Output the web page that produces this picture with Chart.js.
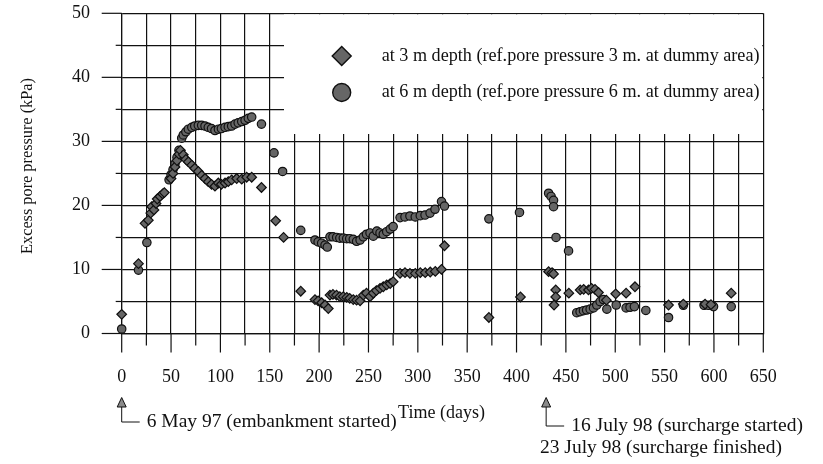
<!DOCTYPE html>
<html>
<head>
<meta charset="utf-8">
<script src="https://cdn.jsdelivr.net/npm/chart.js@4/dist/chart.umd.min.js"></script>
<style>
  html, body { margin: 0; padding: 0; background: #fff; }
  #wrap { width: 823px; height: 464px; position: relative; }
</style>
</head>
<body>
<div id="wrap"><canvas id="c" width="823" height="464"></canvas></div>
<script>
// ---- data ----
const xTickLabels = [0, 50, 100, 150, 200, 250, 300, 350, 400, 450, 500, 550, 600, 650];
const yTickLabels = [0, 10, 20, 30, 40, 50];

const seriesNames = [
  "at 3 m depth (ref.pore pressure 3 m. at dummy area)",
  "at 6 m depth (ref.pore pressure 6 m. at dummy area)"
];

// 3 m depth (diamonds)
const days3 = [0, 17, 23.6, 27, 29.4, 30.4, 32.7, 34.8, 36, 38.8, 41.5, 43.2,
  50, 52, 54, 56, 58, 59.5, 62.4, 65, 67.5, 71, 74, 77.6, 81, 84.4, 87.7, 91, 94.5,
  97.9, 101, 104.7, 108, 111.4, 116.5, 121.6, 126.6, 131.7,
  141.6, 156, 164, 181.4,
  195.8, 199, 202.6, 206, 209.3,
  211, 214, 217.6, 221, 224.5, 228, 231, 234.6, 238, 241.5, 244.8, 248, 251.6, 254.9, 258, 261.7, 265, 268.5, 272, 275,
  282, 287, 292, 297.4, 302.5, 307.5, 312.6, 317.7, 324, 327,
  372, 404,
  432.5, 436, 437.5, 439.7, 439.7, 438, 453,
  464.5, 468, 472.9, 476, 479.5, 483,
  491, 500.5, 511, 520, 554, 569, 591, 597, 617.5];
const vals3 = [3.0, 10.9, 17.2, 17.7, 18.8, 19.8, 19.3, 20.3, 21.0, 21.4, 21.8, 22.0,
  24.2, 25.0, 26.0, 27.0, 28.0, 28.6, 27.9, 27.2, 26.8, 26.3, 25.8, 25.3, 24.7, 24.2, 23.7, 23.3, 23.0,
  23.5, 23.3, 23.5, 23.7, 24.0, 24.2, 24.1, 24.4, 24.4,
  22.8, 17.6, 15.0, 6.6,
  5.3, 5.1, 4.8, 4.45, 3.9,
  6.0, 6.1, 6.0, 5.75, 5.75, 5.65, 5.5, 5.3, 5.2, 5.1, 6.0, 6.3, 5.75, 6.3, 6.7, 7.05, 7.3, 7.6, 7.8, 8.1,
  9.4, 9.5, 9.4, 9.4, 9.5, 9.5, 9.6, 9.7, 10.0, 13.7,
  2.5, 5.7,
  9.65, 9.5, 9.3, 6.8, 5.7, 4.45, 6.3,
  6.8, 6.9, 6.8, 7.05, 6.9, 6.4,
  5.2, 6.2, 6.3, 7.3, 4.45, 4.6, 4.6, 4.5, 6.3];

// 6 m depth (circles)
const days6 = [0, 17, 25.5,
  48, 50, 52, 54, 56, 58, 60.8, 62.4, 65, 67.5, 71, 74, 77.6, 81, 84.4, 87.7, 91, 94.5,
  98, 101, 104.7, 108, 111.4, 114.8, 118, 121.6, 125, 128.3, 131.7,
  141.6, 154.3, 163, 181.4,
  195.8, 199, 202.6, 206, 208.3,
  211, 214, 217.8, 221, 224.5, 228, 231, 234.6, 238, 241.5, 244.8, 248, 251.6, 254.9, 258.5, 261.7, 265, 268.5, 272, 275,
  282, 287, 292, 297.4, 302.5, 307.3, 312.4, 317.4, 324, 327,
  372, 403,
  432.5, 435, 437.5, 437.5, 440, 452.7,
  461, 464.4, 467.8, 471, 474.6, 478, 481.3, 484.7, 488, 491.5,
  501, 511, 515, 519.4, 531, 554, 569, 590, 594.5, 599.6, 617.5];
const vals6 = [0.7, 9.9, 14.2,
  24.0, 24.8, 25.6, 26.5, 27.5, 28.6, 30.5, 31.0, 31.5, 31.9, 32.2, 32.4, 32.5, 32.5, 32.4, 32.2, 32.0, 31.7,
  31.9, 32.0, 32.2, 32.3, 32.4, 32.7, 32.9, 33.1, 33.3, 33.6, 33.8,
  32.7, 28.2, 25.3, 16.1,
  14.6, 14.3, 14.1, 13.8, 13.5,
  15.1, 15.1, 15.0, 14.9, 14.9, 14.8, 14.8, 14.7, 14.4, 14.6, 15.1, 15.5, 15.7, 15.2, 16.0, 15.7, 15.5, 15.9, 16.3, 16.7,
  18.1, 18.2, 18.35, 18.2, 18.4, 18.5, 18.8, 19.4, 20.6, 19.9,
  17.9, 18.9,
  21.9, 21.4, 20.8, 19.8, 15.0, 12.9,
  3.25, 3.4, 3.56, 3.67, 3.8, 4.0, 4.45, 4.97, 5.3, 3.8,
  4.45, 4.0, 4.1, 4.2, 3.6, 2.5, 4.4, 4.4, 4.4, 4.2, 4.2];

const notes = {
  start: "6 May 97 (embankment started)",
  startDay: 0,
  sur1: "16 July 98 (surcharge started)",
  sur2: "23 July 98 (surcharge finished)",
  surDay: 430,
  xTitle: "Time (days)",
  yTitle: "Excess pore pressure (kPa)"
};

// ---- chart ----
const SERIF = "'Liberation Serif', 'Times New Roman', serif";
const FILL = '#666666', EDGE = '#101010';

function toPts(xs, ys) { return xs.map((x, i) => ({ x: x, y: ys[i] })); }

function noPad(scale) {
  scale.paddingTop = 0; scale.paddingBottom = 0;
  scale.paddingLeft = 0; scale.paddingRight = 0;
}

const decorPlugin = {
  id: 'decor',
  beforeDatasetsDraw(chart) {
    const ctx = chart.ctx;
    const ca = chart.chartArea;
    // white legend panel covering the grid
    ctx.save();
    ctx.fillStyle = '#fff';
    ctx.fillRect(284, ca.top + 1, ca.right - 1 - 284, 134 - ca.top - 1);
    ctx.restore();
  },
  afterDraw(chart) {
    const ctx = chart.ctx;
    const xs = chart.scales.x, ys = chart.scales.y;
    const ca = chart.chartArea;
    ctx.save();
    ctx.strokeStyle = '#111';
    ctx.lineWidth = 1.2;
    // x tick marks
    for (let v = 0; v <= 650; v += 25) {
      const px = xs.getPixelForValue(v);
      ctx.beginPath();
      ctx.moveTo(px, ca.bottom);
      ctx.lineTo(px, ca.bottom + (v % 50 === 0 ? 19 : 12));
      ctx.stroke();
    }
    // y tick marks
    for (let v = 0; v <= 50; v += 5) {
      const py = ys.getPixelForValue(v);
      ctx.beginPath();
      ctx.moveTo(ca.left - (v % 10 === 0 ? 20 : 6), py);
      ctx.lineTo(ca.left, py);
      ctx.stroke();
    }

    // legend
    const legX = 341.7, textX = 381.7, legY = [56, 92.5];
    const styles = ['rectRot', 'circle'];
    for (let i = 0; i < 2; i++) {
      ctx.fillStyle = FILL; ctx.strokeStyle = EDGE; ctx.lineWidth = 1.4;
      Chart.helpers.drawPoint(ctx, { pointStyle: styles[i], radius: i === 0 ? 9.5 : 9, borderWidth: 1.4 }, legX, legY[i]);
    }
    ctx.fillStyle = '#111';
    ctx.textBaseline = 'middle';
    ctx.textAlign = 'left';
    ctx.font = '16px ' + SERIF;
    const w0 = ctx.measureText(seriesNames[0]).width;
    const lsize = 16 * 378 / w0;
    ctx.font = lsize.toFixed(2) + 'px ' + SERIF;
    ctx.fillText(seriesNames[0], textX, legY[0]);
    ctx.fillText(seriesNames[1], textX, legY[1]);

    function fitFont(text, target) {
      ctx.font = '17px ' + SERIF;
      const w = ctx.measureText(text).width;
      ctx.font = (17 * target / w).toFixed(2) + 'px ' + SERIF;
    }

    // y axis title
    ctx.save();
    ctx.translate(28, 166);
    ctx.rotate(-Math.PI / 2);
    ctx.textAlign = 'center';
    fitFont(notes.yTitle, 176);
    ctx.fillText(notes.yTitle, 0, 0);
    ctx.restore();

    // x axis title
    ctx.textAlign = 'center';
    fitFont(notes.xTitle, 87);
    ctx.fillText(notes.xTitle, 441.5, 413);

    // arrows
    function arrow(day, yElbow, text, textW) {
      const px = xs.getPixelForValue(day);
      ctx.strokeStyle = '#111';
      ctx.lineWidth = 1;
      ctx.beginPath();
      ctx.moveTo(px, 406);
      ctx.lineTo(px, yElbow);
      ctx.lineTo(px + 18, yElbow);
      ctx.stroke();
      ctx.beginPath();
      ctx.moveTo(px, 397.5);
      ctx.lineTo(px - 4.5, 407);
      ctx.lineTo(px + 4.5, 407);
      ctx.closePath();
      ctx.fillStyle = '#8a8a8a';
      ctx.fill();
      ctx.stroke();
      ctx.fillStyle = '#111';
      ctx.textAlign = 'left';
      fitFont(text, textW);
      ctx.fillText(text, px + 25, yElbow);
    }
    arrow(notes.startDay, 422, notes.start, 250);
    arrow(notes.surDay, 426, notes.sur1, 232);
    ctx.textAlign = 'left';
    fitFont(notes.sur2, 242);
    ctx.fillText(notes.sur2, 540, 448);
    ctx.restore();
  }
};

new Chart(document.getElementById('c'), {
  type: 'scatter',
  data: {
    datasets: [
      {
        label: seriesNames[0],
        data: toPts(days3, vals3),
        pointStyle: 'rectRot',
        pointRadius: 4.8,
        pointBackgroundColor: FILL,
        pointBorderColor: EDGE,
        pointBorderWidth: 1.2,
        clip: false
      },
      {
        label: seriesNames[1],
        data: toPts(days6, vals6),
        pointStyle: 'circle',
        pointRadius: 4.2,
        pointBackgroundColor: FILL,
        pointBorderColor: EDGE,
        pointBorderWidth: 1.2,
        clip: false
      }
    ]
  },
  options: {
    responsive: false,
    animation: false,
    events: [],
    layout: { padding: { left: 0, right: 59.7, top: 13.3, bottom: 0 } },
    plugins: {
      legend: { display: false },
      tooltip: { enabled: false },
      title: { display: false }
    },
    scales: {
      x: {
        type: 'linear',
        min: 0, max: 650,
        afterFit(scale) { scale.height = 464 - 333.5; noPad(scale); },
        border: { display: true, color: '#111', width: 1.2 },
        grid: { color: '#111', lineWidth: 1.2, drawTicks: false },
        ticks: {
          stepSize: 25,
          padding: 33,
          color: '#111',
          font: { family: SERIF, size: 18 },
          maxRotation: 0,
          autoSkip: false,
          callback: (v) => (xTickLabels.includes(v) ? String(v) : '')
        }
      },
      y: {
        type: 'linear',
        min: 0, max: 50,
        afterFit(scale) { scale.width = 121.7; noPad(scale); },
        border: { display: true, color: '#111', width: 1.2 },
        grid: { color: '#111', lineWidth: 1.2, drawTicks: false },
        ticks: {
          stepSize: 5,
          padding: 31.7,
          color: '#111',
          font: { family: SERIF, size: 18 },
          autoSkip: false,
          callback: (v) => (yTickLabels.includes(v) ? String(v) : '')
        }
      }
    }
  },
  plugins: [decorPlugin]
});
</script>
</body>
</html>
